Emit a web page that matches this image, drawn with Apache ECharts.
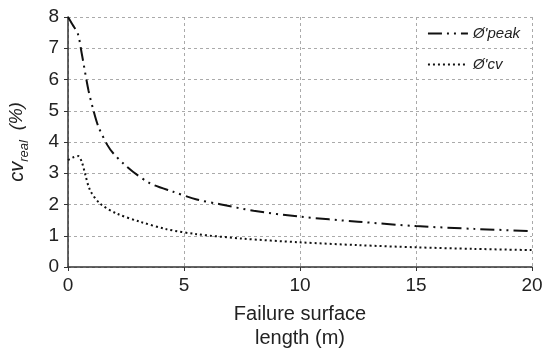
<!DOCTYPE html>
<html>
<head>
<meta charset="utf-8">
<script src="https://cdn.jsdelivr.net/npm/echarts@6/dist/echarts.min.js"></script>
<style>
  html, body { margin: 0; padding: 0; background: #fff; }
  #chart { width: 542px; height: 351px; }
</style>
</head>
<body>
<div id="chart"></div>
<script>
// 读图得到的数据
var xTicks = [0, 5, 10, 15, 20];
var yTicks = [0, 1, 2, 3, 4, 5, 6, 7, 8];

var peakX = [0, 0.2, 0.43, 0.59, 0.88, 1.1, 1.31, 1.7, 1.95, 2.4, 2.8, 3.53, 4.53, 5.55, 6.55, 8, 10, 12.5, 15, 17.5, 20];
var peakY = [8.0, 7.75, 7.45, 6.84, 5.66, 5.0, 4.49, 3.9, 3.64, 3.3, 3.05, 2.68, 2.41, 2.16, 2.01, 1.8, 1.61, 1.45, 1.31, 1.22, 1.15];

var cvX = [0, 0.2, 0.44, 0.6, 0.73, 0.95, 1.38, 2.1, 3.1, 4.25, 5.55, 7.5, 10, 12.5, 15, 17.5, 20];
var cvY = [3.42, 3.5, 3.55, 3.35, 3.0, 2.46, 2.03, 1.71, 1.45, 1.21, 1.05, 0.91, 0.79, 0.7, 0.63, 0.58, 0.54];

function pairs(xs, ys) {
    return xs.map(function(x, i) { return [x, ys[i]]; });
}

var myChart = echarts.init(document.getElementById('chart'));

var option = {
    animation: false,
    backgroundColor: '#fff',
    textStyle: { fontFamily: 'Liberation Sans' },
    grid: { left: 68, right: 10, top: 17, bottom: 84, outerBoundsMode: 'none' },
    legend: {
        orient: 'vertical',
        right: 17,
        top: 21,
        itemGap: 16,
        itemWidth: 40,
        itemHeight: 16,
        itemStyle: { opacity: 0 },
        textStyle: { fontStyle: 'italic', fontSize: 15, color: '#222' },
        data: ["Ø'peak", "Ø'cv"]
    },
    xAxis: {
        type: 'value',
        min: 0, max: 20, interval: 5,
        name: 'Failure surface\nlength (m)',
        nameLocation: 'middle',
        nameGap: 35,
        nameTextStyle: { fontSize: 20, color: '#222', lineHeight: 24, verticalAlign: 'top' },
        axisLine: { lineStyle: { color: '#333', width: 1.5 } },
        axisTick: { show: true, length: 4, lineStyle: { color: '#333' } },
        axisLabel: { fontSize: 19, color: '#222', margin: 9 },
        splitLine: { show: true, lineStyle: { color: '#aaa', type: [3, 3] } }
    },
    yAxis: {
        type: 'value',
        min: 0, max: 8, interval: 1,
        name: '{i|cv}{s|real}{n|  (%)}',
        nameLocation: 'middle',
        nameGap: 41,
        nameRotate: 90,
        nameTextStyle: {
            rich: {
                i: { fontSize: 20, fontStyle: 'italic', color: '#222', verticalAlign: 'bottom' },
                s: { fontSize: 13, fontStyle: 'italic', color: '#222', verticalAlign: 'bottom', padding: [0, 0, -4, 0] },
                n: { fontSize: 18, fontStyle: 'italic', color: '#222' }
            }
        },
        axisLine: { show: true, lineStyle: { color: '#333', width: 1.5 } },
        axisTick: { show: true, length: 4, lineStyle: { color: '#333' } },
        axisLabel: { fontSize: 19, color: '#222', margin: 9 },
        splitLine: { show: true, lineStyle: { color: '#aaa', type: [3, 3] } }
    },
    series: [
        {
            name: "Ø'peak",
            type: 'line',
            smooth: 0.3,
            symbol: 'none',
            data: pairs(peakX, peakY),
            lineStyle: { color: '#111', width: 2, type: [14, 5, 2, 5, 2, 5] },
            itemStyle: { color: '#111' }
        },
        {
            name: "Ø'cv",
            type: 'line',
            smooth: 0.3,
            symbol: 'none',
            data: pairs(cvX, cvY),
            lineStyle: { color: '#111', width: 2, type: [2, 3] },
            itemStyle: { color: '#111' }
        }
    ]
};

myChart.setOption(option);
</script>
</body>
</html>
